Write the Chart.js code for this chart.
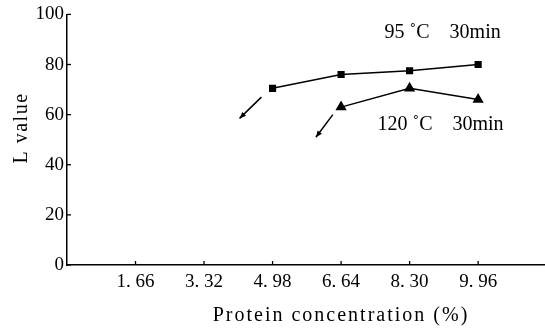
<!DOCTYPE html>
<html>
<head>
<meta charset="utf-8">
<script src="https://cdn.jsdelivr.net/npm/chart.js@4"></script>
<style>
  html, body { margin: 0; padding: 0; background: #fff; }
  #wrap { width: 545px; height: 329px; }
</style>
</head>
<body>
<div id="wrap"><canvas id="chart" width="545" height="329"></canvas></div>
<script>
// x tick positions and their printed labels
const xTicks = [1.66, 3.32, 4.98, 6.64, 8.30, 9.96];
const xTickLabels = ['1. 66', '3. 32', '4. 98', '6. 64', '8. 30', '9. 96'];
const yTicks = [0, 20, 40, 60, 80, 100];

// series
const conc95 = [4.98, 6.64, 8.30, 9.96];
const L95 = [70.5, 76, 77.5, 80];
const conc120 = [6.64, 8.30, 9.96];
const L120 = [63, 70.5, 66];

// arrow annotations (start, end) in data units
const arrowA = [[4.71, 67], [4.18, 58.5]];
const arrowB = [[6.44, 60], [6.03, 51]];

// text annotations
const labelText = ['95 \u02daC    30min', '120 \u02daC    30min'];
const labelPos = [[9.1, 92.5], [9.05, 56]];

const serif = '"Liberation Serif", "DejaVu Serif", serif';

const toPts = (xs, ys) => xs.map((x, i) => ({ x: x, y: ys[i] }));

// inward ticks, arrowheads, labels, axis titles
const extras = {
    id: 'extras',
    afterDraw(chart) {
        const c = chart.ctx;
        const xs = chart.scales.x, ys = chart.scales.y;
        c.save();
        c.strokeStyle = '#000';
        c.lineWidth = 1.3;
        // ticks
        xTicks.forEach(v => {
            const px = xs.getPixelForValue(v);
            c.beginPath(); c.moveTo(px, ys.bottom); c.lineTo(px, ys.bottom - 4); c.stroke();
        });
        yTicks.forEach(v => {
            const py = ys.getPixelForValue(v);
            c.beginPath(); c.moveTo(xs.left, py); c.lineTo(xs.left + 4, py); c.stroke();
        });
        // arrowheads
        [arrowA, arrowB].forEach(a => {
            const x0 = xs.getPixelForValue(a[0][0]), y0 = ys.getPixelForValue(a[0][1]);
            const x1 = xs.getPixelForValue(a[1][0]), y1 = ys.getPixelForValue(a[1][1]);
            const ang = Math.atan2(y1 - y0, x1 - x0);
            c.fillStyle = '#000';
            c.beginPath();
            c.moveTo(x1, y1);
            c.lineTo(x1 - 7 * Math.cos(ang - 0.4), y1 - 7 * Math.sin(ang - 0.4));
            c.lineTo(x1 - 7 * Math.cos(ang + 0.4), y1 - 7 * Math.sin(ang + 0.4));
            c.closePath();
            c.fill();
        });
        // series labels
        c.fillStyle = '#000';
        c.font = '20px ' + serif;
        c.textAlign = 'center';
        c.textBaseline = 'middle';
        labelText.forEach((t, i) => {
            c.fillText(t, xs.getPixelForValue(labelPos[i][0]), ys.getPixelForValue(labelPos[i][1]));
        });
        // axis titles
        c.font = '20px ' + serif;
        c.letterSpacing = '2px';
        c.fillText('Protein concentration (%)', 341, 316);
        c.letterSpacing = '1.5px';
        c.translate(22, 128);
        c.rotate(-Math.PI / 2);
        c.fillText('L value', 0, 0);
        c.restore();
    }
};

new Chart(document.getElementById('chart'), {
    type: 'scatter',
    data: {
        datasets: [
            {
                data: toPts(conc95, L95),
                showLine: true,
                borderColor: '#000',
                backgroundColor: '#000',
                borderWidth: 1.5,
                pointStyle: 'rect',
                pointRadius: 4,
                tension: 0
            },
            {
                data: toPts(conc120, L120),
                showLine: true,
                borderColor: '#000',
                backgroundColor: '#000',
                borderWidth: 1.5,
                pointStyle: 'triangle',
                pointRadius: 5,
                tension: 0
            },
            {
                data: arrowA.map(p => ({ x: p[0], y: p[1] })),
                showLine: true,
                borderColor: '#000',
                borderWidth: 1.5,
                pointRadius: 0
            },
            {
                data: arrowB.map(p => ({ x: p[0], y: p[1] })),
                showLine: true,
                borderColor: '#000',
                borderWidth: 1.5,
                pointRadius: 0
            }
        ]
    },
    options: {
        responsive: false,
        animation: false,
        layout: { autoPadding: false, padding: { top: 12, right: 0, left: 0, bottom: 0 } },
        plugins: {
            legend: { display: false },
            tooltip: { enabled: false }
        },
        scales: {
            x: {
                type: 'linear',
                min: 0,
                max: 11.58,
                afterBuildTicks: s => { s.ticks = xTicks.map(v => ({ value: v })); },
                afterFit: s => { s.height = 64; },
                ticks: {
                    color: '#000',
                    padding: 6,
                    font: { family: serif, size: 19 },
                    callback: (v) => xTickLabels[xTicks.indexOf(v)]
                },
                grid: { drawOnChartArea: false, drawTicks: false },
                border: { display: true, color: '#000', width: 1.5 }
            },
            y: {
                min: 0,
                max: 100,
                afterBuildTicks: s => { s.ticks = yTicks.map(v => ({ value: v })); },
                afterFit: s => { s.width = 67; },
                ticks: {
                    color: '#000',
                    padding: 3,
                    font: { family: serif, size: 19 }
                },
                grid: { drawOnChartArea: false, drawTicks: false },
                border: { display: true, color: '#000', width: 1.5 }
            }
        }
    },
    plugins: [extras]
});
</script>
</body>
</html>
